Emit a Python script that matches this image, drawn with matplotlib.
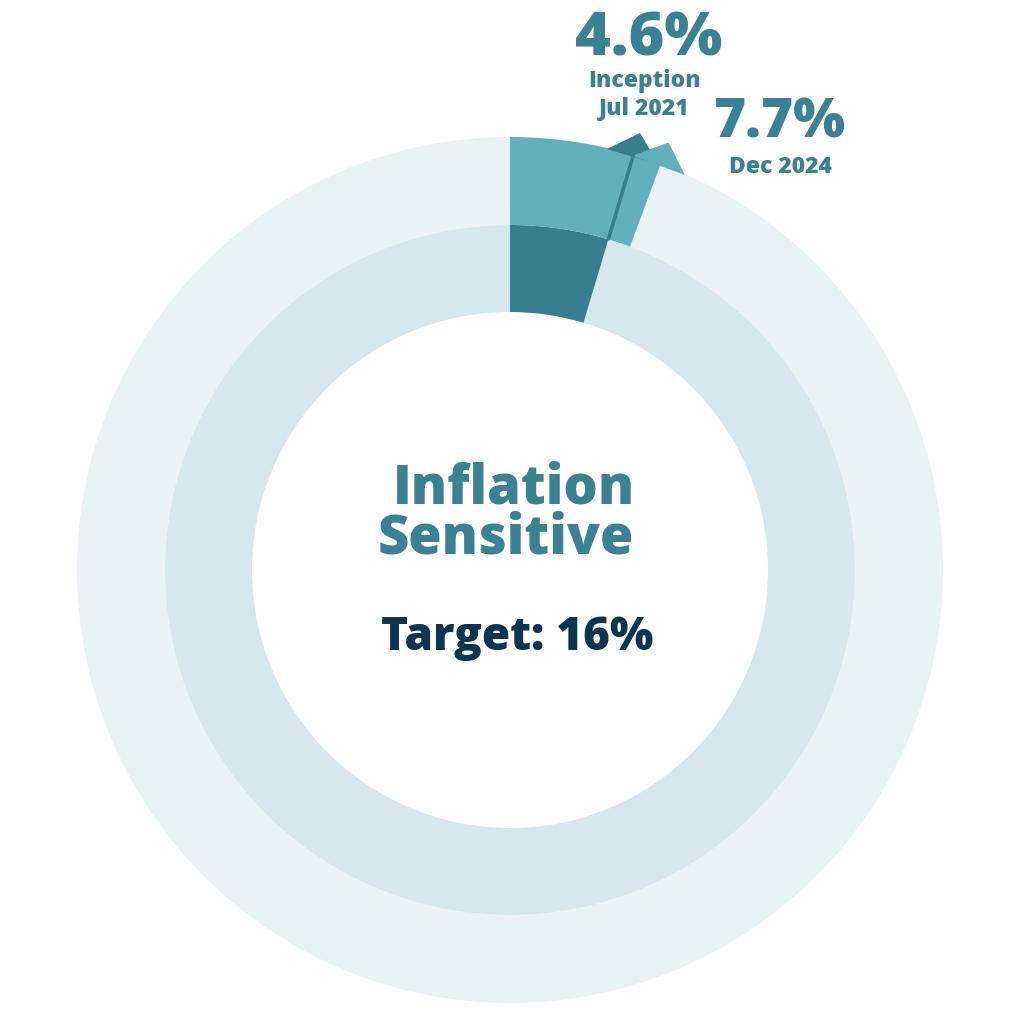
import numpy as np
import matplotlib
matplotlib.use("Agg")
import matplotlib.pyplot as plt
from matplotlib.patches import Wedge, Polygon

# ---- data ----
category = "Inflation Sensitive"
target_pct = 16
inception_pct = 4.6
inception_label = ["Inception", "Jul 2021"]
current_pct = 7.7
current_label = ["Dec 2024"]

# ---- style ----
C_OUTER_BG = "#e9f3f6"
C_INNER_BG = "#d6e8ee"
C_MED = "#62b0bd"
C_DARK = "#377f8e"
C_TEXT = "#3a8292"
C_NAVY = "#0b3550"
FONT = ["Open Sans", "DejaVu Sans"]

R_OUT, R_MID, R_IN = 433, 345, 258
ARROW_SPAN = 3.8  # degrees of the arrow segment beyond the inception mark

fig = plt.figure(figsize=(10.24, 10.24), dpi=100)
ax = fig.add_axes([0, 0, 1, 1])
ax.set_xlim(-510, 514)
ax.set_ylim(-454, 570)
ax.set_aspect("equal")
ax.axis("off")


def clock_to_theta(a):
    return 90 - a


def polar(r, a):
    t = np.deg2rad(clock_to_theta(a))
    return (r * np.cos(t), r * np.sin(t))


a_inc = inception_pct / 100 * 360
a_arrow = a_inc + ARROW_SPAN

# background rings
ax.add_patch(Wedge((0, 0), R_OUT, 0, 360, width=R_OUT - R_MID, color=C_OUTER_BG, lw=0))
ax.add_patch(Wedge((0, 0), R_MID, 0, 360, width=R_MID - R_IN, color=C_INNER_BG, lw=0))

# inner dark wedge (inception)
ax.add_patch(Wedge((0, 0), R_MID, clock_to_theta(a_inc), 90, width=R_MID - R_IN,
                   color=C_DARK, lw=0))
# outer medium wedge (current)
ax.add_patch(Wedge((0, 0), R_OUT, clock_to_theta(a_arrow), 90, width=R_OUT - R_MID,
                   color=C_MED, lw=0))

# dark arrowhead at inception mark
ax.add_patch(Polygon([polar(R_OUT - 1, a_inc - 3.6), polar(R_OUT + 23, a_inc),
                      polar(R_OUT - 1, a_inc + 3.6)], closed=True, color=C_DARK, lw=0))
# medium arrowhead at end of arrow segment
ax.add_patch(Polygon([polar(R_OUT - 1, a_arrow - 3.9), polar(R_OUT + 23, a_arrow),
                      polar(R_OUT - 1, a_arrow + 3.5)], closed=True, color=C_MED, lw=0))
# dark separating line
p1, p2 = polar(R_MID - 1, a_inc), polar(R_OUT + 1, a_inc)
ax.plot([p1[0], p2[0]], [p1[1], p2[1]], color=C_DARK, lw=2.6, solid_capstyle="butt")


def px(x, y):
    return x - 510, 570 - y


# center text
words = category.split()
ax.text(*px(514, 503), words[0], ha="center", va="baseline", fontsize=39,
        fontweight="heavy", color=C_TEXT, family=FONT)
ax.text(*px(506, 553), words[1], ha="center", va="baseline", fontsize=39,
        fontweight="heavy", color=C_TEXT, family=FONT)
ax.text(*px(517, 650), f"Target: {target_pct}%", ha="center", va="baseline", fontsize=33,
        fontweight="heavy", color=C_NAVY, family=FONT)

# labels
ax.text(*px(649, 55), f"{inception_pct}%", ha="center", va="baseline", fontsize=44,
        fontweight="heavy", color=C_TEXT, family=FONT)
ax.text(*px(645, 87), inception_label[0], ha="center", va="baseline", fontsize=16.5,
        fontweight="heavy", color=C_TEXT, family=FONT)
ax.text(*px(644, 115), inception_label[1], ha="center", va="baseline", fontsize=16.5,
        fontweight="heavy", color=C_TEXT, family=FONT)
ax.text(*px(780, 137), f"{current_pct}%", ha="center", va="baseline", fontsize=39.5,
        fontweight="heavy", color=C_TEXT, family=FONT)
ax.text(*px(780, 173), current_label[0], ha="center", va="baseline", fontsize=16.5,
        fontweight="heavy", color=C_TEXT, family=FONT)

fig.savefig("out.png", dpi=100, facecolor="white")
